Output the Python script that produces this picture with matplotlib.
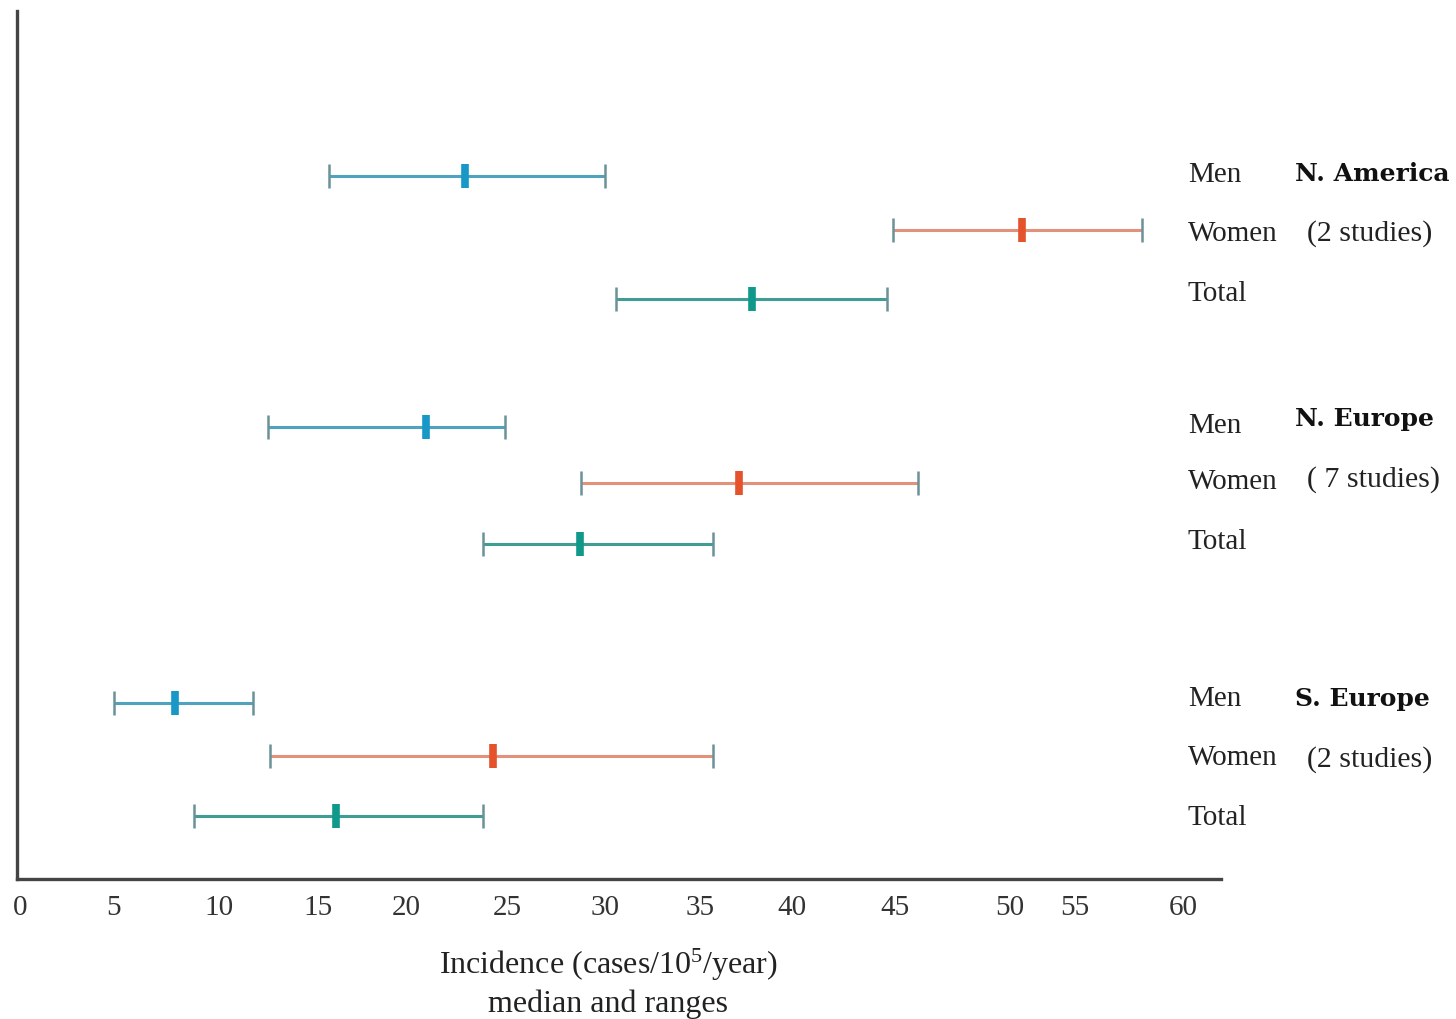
import numpy as np
import matplotlib
matplotlib.use("Agg")
import matplotlib.pyplot as plt
from matplotlib import transforms

plt.rcParams["font.family"] = ["Liberation Serif", "DejaVu Serif"]
plt.rcParams["mathtext.fontset"] = "custom"
plt.rcParams["mathtext.rm"] = "Liberation Serif"
plt.rcParams["mathtext.it"] = "Liberation Serif:italic"

# incidence (cases / 10^5 / year): median with low-high range
regions = ["N. America", "N. Europe", "S. Europe"]
studies = ["(2 studies)", "( 7 studies)", "(2 studies)"]
groups = ["Men", "Women", "Total"]

low = np.array([
    [15.6, 44.9, 30.6],
    [12.5, 28.8, 23.8],
    [5.0, 12.6, 8.8],
])
median = np.array([
    [22.9, 50.9, 37.8],
    [21.0, 37.1, 28.7],
    [7.9, 24.3, 16.0],
])
high = np.array([
    [30.0, 58.1, 44.6],
    [24.9, 46.0, 35.7],
    [11.7, 35.7, 23.8],
])

tick_vals = [0, 5, 10, 15, 20, 25, 30, 35, 40, 45, 50, 55, 60]
tick_labels = [str(v) for v in tick_vals]

# the axis is not evenly spaced: where each tick sits along it
tick_pos = np.array([20, 114, 219, 318, 406, 507, 605, 700, 792, 895, 1010, 1075, 1183], float)
tv = np.array(tick_vals, float)


def forward(v):
    v = np.asarray(v, float)
    out = np.interp(v, tv, tick_pos)
    left = (tick_pos[1] - tick_pos[0]) / (tv[1] - tv[0])
    right = (tick_pos[-1] - tick_pos[-2]) / (tv[-1] - tv[-2])
    out = np.where(v < tv[0], tick_pos[0] + (v - tv[0]) * left, out)
    out = np.where(v > tv[-1], tick_pos[-1] + (v - tv[-1]) * right, out)
    return out


def inverse(p):
    p = np.asarray(p, float)
    out = np.interp(p, tick_pos, tv)
    left = (tv[1] - tv[0]) / (tick_pos[1] - tick_pos[0])
    right = (tv[-1] - tv[-2]) / (tick_pos[-1] - tick_pos[-2])
    out = np.where(p < tick_pos[0], tv[0] + (p - tick_pos[0]) * left, out)
    out = np.where(p > tick_pos[-1], tv[-1] + (p - tick_pos[-1]) * right, out)
    return out


# vertical layout of the rows (top to bottom) and of their labels
row_y = [[177, 231, 300], [428, 484, 545], [704, 757, 817]]
label_y = [[175, 234, 294], [426, 482, 542], [699, 758, 818]]
region_y = [174, 419, 699]
studies_y = [234, 480, 760]

line_colors = ["#4fa3bf", "#e3917b", "#3f9d94"]
median_colors = ["#1798c6", "#e4532c", "#10998b"]
cap_color = "#6a9298"

fig = plt.figure(figsize=(14.56, 10.20), dpi=100)
ax = fig.add_axes([17 / 1456, 1 - 880 / 1020, (1221 - 17) / 1456, (880 - 12) / 1020])
ax.set_xscale("function", functions=(forward, inverse))
ax.set_xlim(float(inverse(17)), float(inverse(1221)))
ax.set_ylim(880, 12)

for r in range(len(regions)):
    for g in range(len(groups)):
        y = row_y[r][g]
        ax.hlines(y, low[r, g], high[r, g], color=line_colors[g], lw=2.2, zorder=2)
        ax.plot([low[r, g], high[r, g]], [y, y], ls="none", marker="|",
                ms=17, mew=1.8, color=cap_color, zorder=3)
        ax.plot(median[r, g], y, marker="|", ms=17, mew=5.5,
                color=median_colors[g], zorder=4)

for side in ["top", "right"]:
    ax.spines[side].set_visible(False)
for side in ["left", "bottom"]:
    ax.spines[side].set_color("#444444")
    ax.spines[side].set_linewidth(2.4)
ax.set_yticks([])
ax.set_xticks(tick_vals, labels=tick_labels)
ax.tick_params(axis="x", length=0, pad=11, labelsize=21, labelcolor="#333333")

# row and region labels to the right of the axis
trans = transforms.blended_transform_factory(fig.transFigure, ax.transData)
for r in range(len(regions)):
    for g in range(len(groups)):
        ax.text(1188 / 1456, label_y[r][g], groups[g], transform=trans,
                ha="left", va="center", fontsize=21, color="#222222", clip_on=False)
    ax.text(1295 / 1456, region_y[r], regions[r], transform=trans,
            ha="left", va="center", fontsize=18, fontweight="bold",
            family="DejaVu Serif", color="#111111", clip_on=False)
    ax.text(1307 / 1456, studies_y[r], studies[r], transform=trans,
            ha="left", va="center", fontsize=21.5, color="#222222", clip_on=False)

fig.text(608 / 1456, 1 - 965 / 1020, "Incidence (cases/10$^5$/year)",
         ha="center", va="center", fontsize=23, color="#222222")
fig.text(608 / 1456, 1 - 1004 / 1020, "median and ranges",
         ha="center", va="center", fontsize=23, color="#222222")

fig.savefig("out.png", dpi=100)
